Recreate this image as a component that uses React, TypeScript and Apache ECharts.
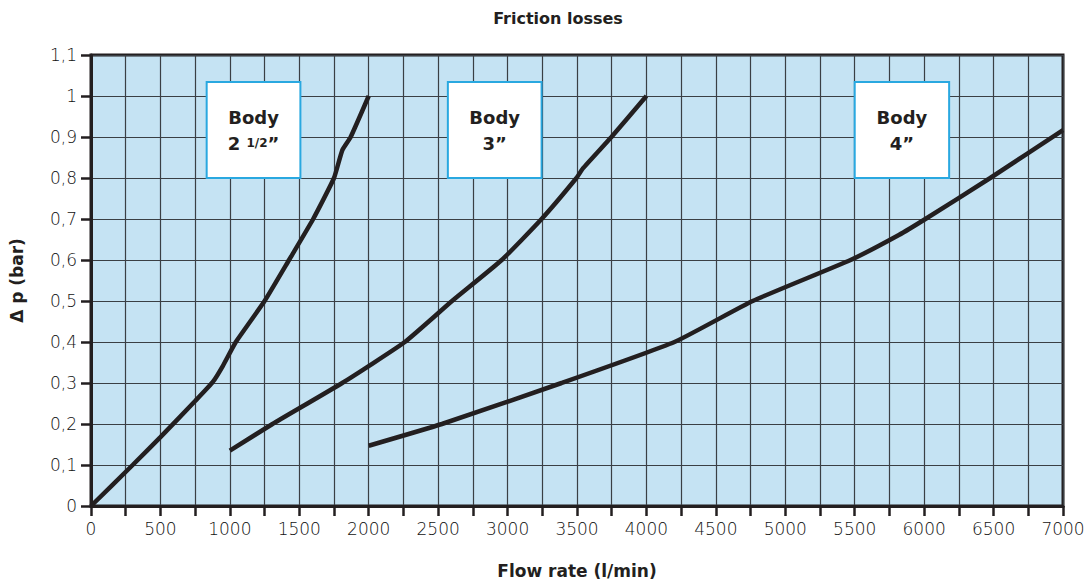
import React, { useEffect, useRef } from "react";
import * as echarts from "echarts";

const body25: [number, number][] = [
  [0, 0], [300, 0.1], [500, 0.168], [750, 0.256], [876, 0.302], [950, 0.342], [1043, 0.4],
  [1250, 0.5], [1426, 0.6], [1600, 0.7], [1750, 0.8], [1810, 0.868], [1870, 0.9], [2000, 1.0],
];
const body3: [number, number][] = [
  [1000, 0.135], [1307, 0.2], [1809, 0.3], [2260, 0.4], [2600, 0.5], [2958, 0.6],
  [3245, 0.7], [3496, 0.8], [3544, 0.824], [3748, 0.9], [4000, 1.0],
];
const body4: [number, number][] = [
  [2000, 0.147], [2527, 0.2], [3389, 0.3], [4202, 0.4], [4765, 0.5], [5470, 0.6],
  [5818, 0.661], [6009, 0.7], [6476, 0.8], [7000, 0.917],
];
// annotation boxes: [xFrom, xTo, yFrom, yTo, label]
const boxes: [number, number, number, number, string][] = [
  [833, 1508, 0.8, 1.034, "Body\n{b|2} {s|1/2}{b|”}"],
  [2570, 3245, 0.8, 1.034, "Body\n3”"],
  [5500, 6180, 0.8, 1.034, "Body\n4”"],
];

const FONT = "'DejaVu Sans', sans-serif";

export default function App() {
  const ref = useRef<HTMLDivElement>(null);
  useEffect(() => {
    const chart = echarts.init(ref.current!, undefined, { renderer: "svg" });
    const lineStyle = { color: "#231f20", width: 4.5 };
    const tickLabel = {
      fontFamily: FONT,
      fontSize: 17,
      fontWeight: 200,
      color: "#111",
      margin: 14,
    };
    chart.setOption({
      animation: false,
      title: {
        text: "Friction losses",
        left: 553,
        textAlign: "center",
        top: 5,
        textStyle: { fontFamily: FONT, fontSize: 16, fontWeight: "bold", color: "#231f20" },
      },
      grid: {
        left: 88,
        right: 25,
        top: 55,
        bottom: 78,
        show: true,
        backgroundColor: "#c5e3f3",
        borderColor: "#231f20",
        borderWidth: 3,
      },
      xAxis: {
        type: "value",
        min: 0,
        max: 7000,
        interval: 250,
        name: "Flow rate (l/min)",
        nameLocation: "middle",
        nameGap: 56,
        nameTextStyle: { fontFamily: FONT, fontSize: 17, fontWeight: "bold", color: "#231f20" },
        axisLine: { show: true, lineStyle: { color: "#231f20", width: 3 } },
        axisTick: { show: true, length: 10, lineStyle: { color: "#231f20", width: 2.5 } },
        axisLabel: {
          ...tickLabel,
          formatter: (v: number) => (v % 500 === 0 ? String(v) : ""),
        },
        splitLine: { show: true, lineStyle: { color: "#3a3f44", width: 1.2 } },
      },
      yAxis: {
        type: "value",
        min: 0,
        max: 1.1,
        interval: 0.1,
        name: "Δ p (bar)",
        nameLocation: "middle",
        nameGap: 66,
        nameRotate: 90,
        nameTextStyle: { fontFamily: FONT, fontSize: 17, fontWeight: "bold", color: "#231f20" },
        axisLine: { show: true, lineStyle: { color: "#231f20", width: 3 } },
        axisTick: { show: true, length: 10, lineStyle: { color: "#231f20", width: 2.5 } },
        axisLabel: {
          ...tickLabel,
          formatter: (v: number) => {
            const r = Math.round(v * 10) / 10;
            return String(r).replace(".", ",");
          },
        },
        splitLine: { show: true, lineStyle: { color: "#3a3f44", width: 1.2 } },
      },
      series: [
        {
          type: "line",
          data: body25,
          showSymbol: false,
          smooth: 0.15,
          lineStyle,
          z: 3,
          markArea: {
            silent: true,
            itemStyle: { color: "#ffffff", borderColor: "#29a8e0", borderWidth: 2 },
            label: {
              show: true,
              position: "inside",
              fontFamily: FONT,
              fontSize: 18,
              fontWeight: "bold",
              color: "#231f20",
              lineHeight: 26,
              rich: {
                b: { fontFamily: FONT, fontSize: 18, fontWeight: "bold", color: "#231f20", lineHeight: 26 },
                s: { fontFamily: FONT, fontSize: 12, fontWeight: "bold", color: "#231f20", lineHeight: 26 },
              },
            },
            data: boxes.map((b) => [
              { xAxis: b[0], yAxis: b[3], name: b[4] },
              { xAxis: b[1], yAxis: b[2] },
            ]),
          },
        },
        { type: "line", data: body3, showSymbol: false, smooth: 0.15, lineStyle, z: 3 },
        { type: "line", data: body4, showSymbol: false, smooth: 0.15, lineStyle, z: 3 },
      ],
    });
    return () => chart.dispose();
  }, []);
  return (
    <div
      ref={ref}
      style={{ position: "fixed", left: 0, top: 0, width: 1088, height: 584, background: "#fff" }}
    />
  );
}
